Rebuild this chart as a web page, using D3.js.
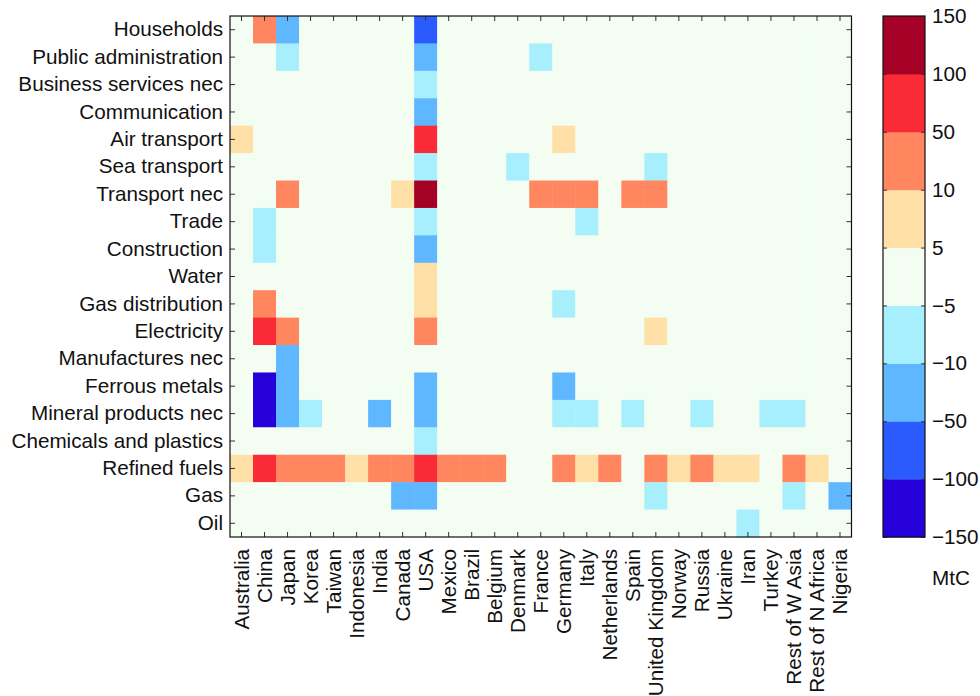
<!DOCTYPE html>
<html>
<head>
<meta charset="utf-8">
<script src="https://cdn.jsdelivr.net/npm/d3@7"></script>
<style>
  body { margin: 0; background: #fff; }
  text { font-family: "Liberation Sans", Arial, sans-serif; fill: #111; }
</style>
</head>
<body>
<div id="chart"></div>
<script>
var countries = ["Australia", "China", "Japan", "Korea", "Taiwan", "Indonesia", "India", "Canada", "USA",
  "Mexico", "Brazil", "Belgium", "Denmark", "France", "Germany", "Italy", "Netherlands", "Spain",
  "United Kingdom", "Norway", "Russia", "Ukraine", "Iran", "Turkey", "Rest of W Asia", "Rest of N Africa", "Nigeria"];

var sectors = ["Households", "Public administration", "Business services nec", "Communication",
  "Air transport", "Sea transport", "Transport nec", "Trade", "Construction", "Water",
  "Gas distribution", "Electricity", "Manufactures nec", "Ferrous metals", "Mineral products nec",
  "Chemicals and plastics", "Refined fuels", "Gas", "Oil"];

// MtC, one row per sector, one column per country
var values = [
  [0, 30, -30, 0, 0, 0, 0, 0, -75, 0, 0, 0, 0, 0, 0, 0, 0, 0, 0, 0, 0, 0, 0, 0, 0, 0, 0],
  [0, 0, -7, 0, 0, 0, 0, 0, -30, 0, 0, 0, 0, -7, 0, 0, 0, 0, 0, 0, 0, 0, 0, 0, 0, 0, 0],
  [0, 0, 0, 0, 0, 0, 0, 0, -7, 0, 0, 0, 0, 0, 0, 0, 0, 0, 0, 0, 0, 0, 0, 0, 0, 0, 0],
  [0, 0, 0, 0, 0, 0, 0, 0, -30, 0, 0, 0, 0, 0, 0, 0, 0, 0, 0, 0, 0, 0, 0, 0, 0, 0, 0],
  [7, 0, 0, 0, 0, 0, 0, 0, 75, 0, 0, 0, 0, 0, 7, 0, 0, 0, 0, 0, 0, 0, 0, 0, 0, 0, 0],
  [0, 0, 0, 0, 0, 0, 0, 0, -7, 0, 0, 0, -7, 0, 0, 0, 0, 0, -7, 0, 0, 0, 0, 0, 0, 0, 0],
  [0, 0, 30, 0, 0, 0, 0, 7, 120, 0, 0, 0, 0, 30, 30, 30, 0, 30, 30, 0, 0, 0, 0, 0, 0, 0, 0],
  [0, -7, 0, 0, 0, 0, 0, 0, -7, 0, 0, 0, 0, 0, 0, -7, 0, 0, 0, 0, 0, 0, 0, 0, 0, 0, 0],
  [0, -7, 0, 0, 0, 0, 0, 0, -30, 0, 0, 0, 0, 0, 0, 0, 0, 0, 0, 0, 0, 0, 0, 0, 0, 0, 0],
  [0, 0, 0, 0, 0, 0, 0, 0, 7, 0, 0, 0, 0, 0, 0, 0, 0, 0, 0, 0, 0, 0, 0, 0, 0, 0, 0],
  [0, 30, 0, 0, 0, 0, 0, 0, 7, 0, 0, 0, 0, 0, -7, 0, 0, 0, 0, 0, 0, 0, 0, 0, 0, 0, 0],
  [0, 75, 30, 0, 0, 0, 0, 0, 30, 0, 0, 0, 0, 0, 0, 0, 0, 0, 7, 0, 0, 0, 0, 0, 0, 0, 0],
  [0, 0, -30, 0, 0, 0, 0, 0, 0, 0, 0, 0, 0, 0, 0, 0, 0, 0, 0, 0, 0, 0, 0, 0, 0, 0, 0],
  [0, -120, -30, 0, 0, 0, 0, 0, -30, 0, 0, 0, 0, 0, -30, 0, 0, 0, 0, 0, 0, 0, 0, 0, 0, 0, 0],
  [0, -120, -30, -7, 0, 0, -30, 0, -30, 0, 0, 0, 0, 0, -7, -7, 0, -7, 0, 0, -7, 0, 0, -7, -7, 0, 0],
  [0, 0, 0, 0, 0, 0, 0, 0, -7, 0, 0, 0, 0, 0, 0, 0, 0, 0, 0, 0, 0, 0, 0, 0, 0, 0, 0],
  [7, 75, 30, 30, 30, 7, 30, 30, 75, 30, 30, 30, 0, 0, 30, 7, 30, 0, 30, 7, 30, 7, 7, 0, 30, 7, 0],
  [0, 0, 0, 0, 0, 0, 0, -30, -30, 0, 0, 0, 0, 0, 0, 0, 0, 0, -7, 0, 0, 0, 0, 0, -7, 0, -30],
  [0, 0, 0, 0, 0, 0, 0, 0, 0, 0, 0, 0, 0, 0, 0, 0, 0, 0, 0, 0, 0, 0, -7, 0, 0, 0, 0]
];

var cbTicks = [-150, -100, -50, -10, -5, 5, 10, 50, 100, 150];
var cbColors = ["#2600d8", "#2b5bff", "#5fb8ff", "#a8effe", "#f3fdf1", "#ffe0a7", "#ff865e", "#fa2b37", "#a50026"];

var width = 980, height = 696;
var plot = {left: 230, top: 16, right: 851.5, bottom: 537};
var cb = {left: 883, right: 925};
var fontSize = "20.7px";

var svg = d3.select("#chart").append("svg")
    .attr("width", width)
    .attr("height", height);

var x = d3.scaleBand().domain(countries).range([plot.left, plot.right]);
var y = d3.scaleBand().domain(sectors).range([plot.top, plot.bottom]);

var color = d3.scaleThreshold()
    .domain(cbTicks.slice(1, -1))
    .range(cbColors);

var cells = [];
values.forEach(function(row, i) {
  row.forEach(function(v, j) {
    cells.push({sector: sectors[i], country: countries[j], value: v});
  });
});

svg.append("g").selectAll("rect")
    .data(cells)
  .enter().append("rect")
    .attr("x", d => x(d.country))
    .attr("y", d => y(d.sector))
    .attr("width", x.bandwidth() + 0.5)
    .attr("height", y.bandwidth() + 0.5)
    .attr("fill", d => color(d.value));

function styleAxis(g) {
  g.select(".domain").remove();
  g.selectAll(".tick line").attr("stroke", "#333").attr("stroke-width", 1);
  g.selectAll(".tick text").style("font-size", fontSize).attr("fill", "#111");
}

svg.append("g")
    .attr("transform", "translate(" + plot.left + ",0)")
    .call(d3.axisLeft(y).tickSizeInner(-5).tickSizeOuter(0).tickPadding(7))
    .call(styleAxis);

svg.append("g")
    .attr("transform", "translate(" + plot.right + ",0)")
    .call(d3.axisRight(y).tickSizeInner(-5).tickSizeOuter(0).tickFormat(""))
    .call(styleAxis);

svg.append("g")
    .attr("transform", "translate(0," + plot.top + ")")
    .call(d3.axisTop(x).tickSizeInner(-5).tickSizeOuter(0).tickFormat(""))
    .call(styleAxis);

var xb = svg.append("g")
    .attr("transform", "translate(0," + plot.bottom + ")")
    .call(d3.axisBottom(x).tickSizeInner(-5).tickSizeOuter(0))
    .call(styleAxis);

xb.selectAll(".tick text")
    .attr("transform", "rotate(-90)")
    .attr("text-anchor", "end")
    .attr("x", -12)
    .attr("y", 0)
    .attr("dy", "0.36em");

svg.append("rect")
    .attr("x", plot.left)
    .attr("y", plot.top)
    .attr("width", plot.right - plot.left)
    .attr("height", plot.bottom - plot.top)
    .attr("fill", "none")
    .attr("stroke", "#111")
    .attr("stroke-width", 1.2);

// colour bar
var cbY = d3.scalePoint().domain(cbTicks).range([plot.bottom, plot.top]);

svg.append("g").selectAll("rect")
    .data(cbColors)
  .enter().append("rect")
    .attr("x", cb.left)
    .attr("y", (d, i) => cbY(cbTicks[i + 1]))
    .attr("width", cb.right - cb.left)
    .attr("height", (d, i) => cbY(cbTicks[i]) - cbY(cbTicks[i + 1]) + 0.5)
    .attr("fill", d => d);

svg.append("g")
    .attr("transform", "translate(" + cb.right + ",0)")
    .call(d3.axisRight(cbY).tickSizeInner(-4).tickSizeOuter(0).tickPadding(7)
      .tickFormat(d => d < 0 ? "\u2212" + Math.abs(d) : String(d)))
    .call(styleAxis);

svg.append("g")
    .attr("transform", "translate(" + cb.left + ",0)")
    .call(d3.axisLeft(cbY).tickSizeInner(-4).tickSizeOuter(0).tickFormat(""))
    .call(styleAxis);

svg.append("rect")
    .attr("x", cb.left)
    .attr("y", plot.top)
    .attr("width", cb.right - cb.left)
    .attr("height", plot.bottom - plot.top)
    .attr("fill", "none")
    .attr("stroke", "#111")
    .attr("stroke-width", 1.2);

svg.append("text")
    .attr("x", 951)
    .attr("y", 585)
    .attr("text-anchor", "middle")
    .style("font-size", fontSize)
    .text("MtC");
</script>
</body>
</html>
